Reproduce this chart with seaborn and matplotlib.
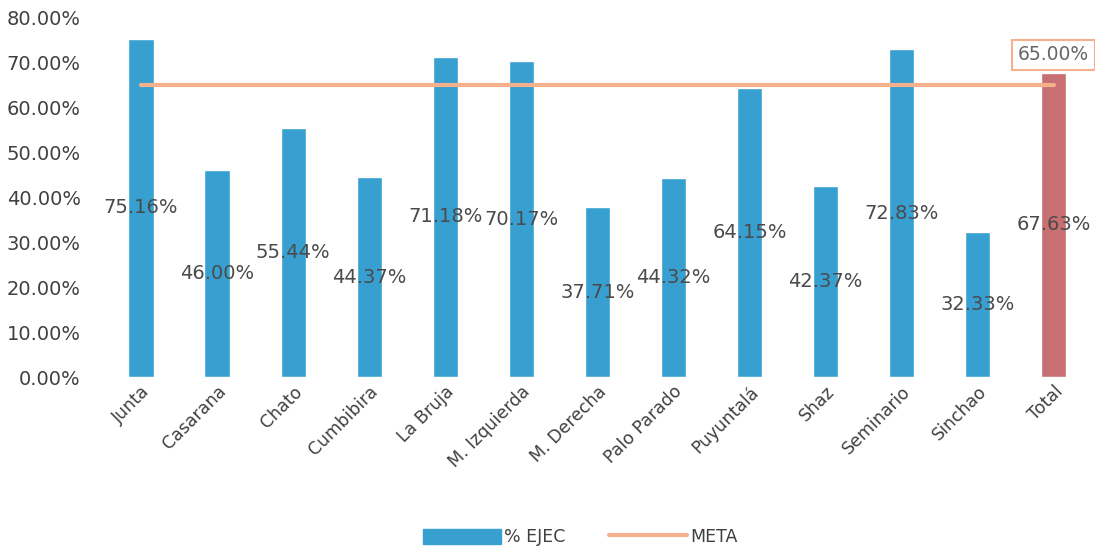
import matplotlib
matplotlib.use("Agg")
import matplotlib.pyplot as plt
import seaborn as sns
import pandas as pd
import numpy as np
from matplotlib.patches import Patch
from matplotlib.lines import Line2D

categories = ["Junta", "Casarana", "Chato", "Cumbibira", "La Bruja", "M. Izquierda",
              "M. Derecha", "Palo Parado", "Puyuntalá", "Shaz", "Seminario", "Sinchao", "Total"]
ejec = [75.16, 46.00, 55.44, 44.37, 71.18, 70.17, 37.71, 44.32, 64.15, 42.37, 72.83, 32.33, 67.63]
meta = [65.00] * len(categories)
yticks = [0, 10, 20, 30, 40, 50, 60, 70, 80]

sns.set_theme(style="white")
plt.rcParams['font.family'] = ['DejaVu Sans']

df = pd.DataFrame({"cat": categories, "ejec": ejec, "meta": meta})
blue = "#37a0d0"
red = "#c76f71"
orange = "#f5b08c"
palette = [blue] * (len(categories) - 1) + [red]

fig = plt.figure(figsize=(10.95, 5.5), dpi=100)
ax = fig.add_axes([0.094, 0.3145, 0.903, 0.6545])

sns.barplot(data=df, x="cat", y="ejec", hue="cat", palette=palette, legend=False,
            width=0.33, ax=ax, saturation=1)
sns.lineplot(x=np.arange(len(categories)), y=df["meta"], color=orange, linewidth=3,
             ax=ax, zorder=3)

for i, v in enumerate(ejec):
    ax.text(i, v / 2, f"{v:.2f}%", ha="center", va="center", fontsize=14,
            color="#4a4a4a", zorder=4)

ax.annotate(f"{meta[-1]:.2f}%", xy=(len(categories) - 1, meta[-1]), xytext=(len(categories) - 1, 71.6),
            ha="center", va="center", fontsize=13.5, color="#666666",
            bbox=dict(boxstyle="square,pad=0.3", fc="white", ec=orange, lw=1.5), zorder=5)

ax.set_xlim(-0.5, len(categories) - 0.5)
ax.set_ylim(0, 80)
ax.set_yticks(yticks)
ax.set_yticklabels([f"{t:.2f}%" for t in yticks], fontsize=14, color="#404040")
ax.tick_params(axis="y", length=0, pad=16)
ax.tick_params(axis="x", length=0, pad=4)
ax.set_xticks(range(len(categories)))
ax.set_xticklabels(categories, rotation=45, ha="right", rotation_mode="anchor",
                   fontsize=12.5, color="#404040")
ax.set_xlabel("")
ax.set_ylabel("")
for s in ax.spines.values():
    s.set_visible(False)

handles = [Patch(facecolor=blue, edgecolor=blue, label="% EJEC"),
           Line2D([0], [0], color=orange, lw=3, label="META")]
fig.legend(handles=handles, loc="center", bbox_to_anchor=(0.53, 0.023), ncol=2,
           frameon=False, fontsize=12.5, handlelength=4.5, handleheight=1.0,
           columnspacing=2.5, handletextpad=0.2, labelcolor="#404040")

fig.savefig("out.png", dpi=100)
